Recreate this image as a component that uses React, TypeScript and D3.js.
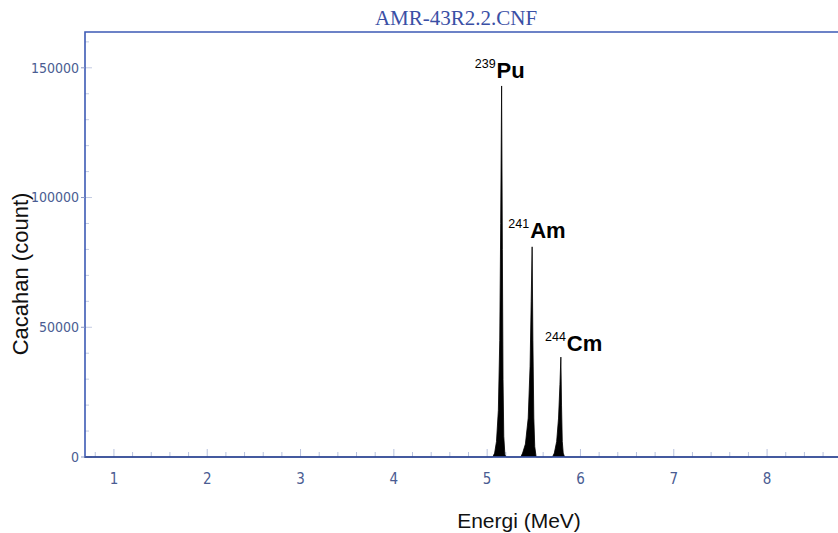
import { useEffect, useRef } from 'react';
import * as d3 from 'd3';

// spectrum (energy in MeV, counts)
const energy = [0.68, 5.06, 5.08, 5.10, 5.12, 5.135, 5.145, 5.155, 5.163, 5.170, 5.178, 5.19, 5.20,
  5.36, 5.38, 5.41, 5.44, 5.46, 5.472, 5.482, 5.49, 5.50, 5.51, 5.525,
  5.70, 5.72, 5.745, 5.765, 5.78, 5.79, 5.797, 5.805, 5.815, 5.83, 8.8];
const counts = [0, 0, 1500, 6000, 18000, 45000, 90000, 143000, 80000, 30000, 8000, 1000, 0,
  0, 1500, 5000, 15000, 35000, 60000, 81000, 45000, 15000, 4000, 0,
  0, 1500, 6000, 15000, 28000, 38500, 20000, 6000, 1500, 0, 0];

const peaks = [
  { mass: '239', sym: 'Pu', e: 5.155, c: 143000, dx: -5, dy: -8 },
  { mass: '241', sym: 'Am', e: 5.482, c: 81000, dx: -2, dy: -9 },
  { mass: '244', sym: 'Cm', e: 5.79, c: 38500, dx: 6, dy: -6 },
];

const xTicks = [1, 2, 3, 4, 5, 6, 7, 8];
const yTicks = [0, 50000, 100000, 150000];

const W = 838, H = 533;
const margin = { top: 32, right: 0, bottom: 76, left: 85 };

const App = () => {
  const svgRef = useRef<SVGSVGElement>(null);

  useEffect(() => {
    const svg = d3.select(svgRef.current);
    svg.selectAll('*').remove();

    const x = d3.scaleLinear().domain([0.69, 8.76]).range([margin.left, W - margin.right]);
    const y = d3.scaleLinear().domain([0, 163800]).range([H - margin.bottom, margin.top]);
    const axisColor = '#3d5ab5';
    const tickFont = '"Liberation Sans Narrow", "DejaVu Sans Condensed", Arial, sans-serif';
    const sans = 'Arial, "Liberation Sans", sans-serif';

    svg.append('rect').attr('width', W).attr('height', H).attr('fill', '#fff');

    // title
    svg.append('text')
      .attr('x', 456).attr('y', 25)
      .attr('text-anchor', 'middle')
      .style('font-family', '"Liberation Serif", "Times New Roman", serif')
      .style('font-size', '21px')
      .style('fill', '#3a4fa5')
      .text('AMR-43R2.2.CNF');

    // minor ticks
    const xMinor = d3.range(0.8, 8.8, 0.2);
    svg.selectAll('.xminor').data(xMinor).enter().append('line')
      .attr('x1', d => x(d)).attr('x2', d => x(d))
      .attr('y1', y(0)).attr('y2', d => y(0) - (Math.abs(d - Math.round(d)) < 0.01 ? 8 : 5))
      .style('stroke', '#b8c2de').style('stroke-width', 1);

    const yMinor = d3.range(0, 160001, 10000);
    svg.selectAll('.yminor').data(yMinor).enter().append('line')
      .attr('x1', x.range()[0]).attr('x2', d => x.range()[0] + (d % 50000 === 0 ? 7 : 4))
      .attr('y1', d => y(d)).attr('y2', d => y(d))
      .style('stroke', '#c3cbe3').style('stroke-width', 1);

    // spectrum
    const pts = energy.map((e, i) => [e, counts[i]] as [number, number]);
    const area = d3.area<[number, number]>()
      .x(d => x(d[0]))
      .y0(y(0))
      .y1(d => y(d[1]));
    svg.append('path')
      .attr('d', area(pts))
      .style('fill', '#000')
      .style('stroke', '#000')
      .style('stroke-width', 0.8);

    // frame
    svg.append('path')
      .attr('d', `M${W},${y.range()[1]}H${x.range()[0]}V${y(0)}H${W}`)
      .style('fill', 'none')
      .style('stroke', axisColor)
      .style('stroke-width', 1.6);

    // y tick labels
    svg.selectAll('.ytick').data(yTicks).enter().append('line')
      .attr('x1', x.range()[0] - 4).attr('x2', x.range()[0])
      .attr('y1', d => y(d)).attr('y2', d => y(d))
      .style('stroke', '#8a97c4');
    svg.selectAll('.ylab').data(yTicks).enter().append('text')
      .attr('x', x.range()[0] - 6)
      .attr('y', d => y(d))
      .attr('dy', '0.35em')
      .attr('text-anchor', 'end')
      .style('font-family', tickFont)
      .style('font-size', '14px')
      .style('fill', '#4a5c92')
      .text(d => d);

    // x tick labels
    svg.selectAll('.xlab').data(xTicks).enter().append('text')
      .attr('x', d => x(d))
      .attr('y', y(0) + 27)
      .attr('text-anchor', 'middle')
      .style('font-family', tickFont)
      .style('font-size', '15px')
      .style('fill', '#4a5c92')
      .text(d => d);

    // axis titles
    svg.append('text')
      .attr('x', 519).attr('y', 528)
      .attr('text-anchor', 'middle')
      .style('font-family', sans)
      .style('font-size', '21px')
      .style('fill', '#111')
      .text('Energi (MeV)');
    svg.append('text')
      .attr('transform', `translate(28,274) rotate(-90)`)
      .attr('text-anchor', 'middle')
      .style('font-family', sans)
      .style('font-size', '22px')
      .style('fill', '#111')
      .text('Cacahan (count)');

    // peak labels: mass number as superscript, symbol in bold
    const g = svg.selectAll('.peak').data(peaks).enter().append('g')
      .attr('transform', d => `translate(${x(d.e) + d.dx},${y(d.c) + d.dy})`);
    g.append('text')
      .attr('x', -1).attr('y', -10)
      .attr('text-anchor', 'end')
      .style('font-family', sans)
      .style('font-size', '12.5px')
      .style('fill', '#000')
      .text(d => d.mass);
    g.append('text')
      .attr('x', 0).attr('y', 0)
      .attr('text-anchor', 'start')
      .style('font-family', sans)
      .style('font-size', '22px')
      .style('font-weight', 'bold')
      .style('fill', '#000')
      .text(d => d.sym);
  }, []);

  return (
    <svg ref={svgRef} width={W} height={H}
      style={{ position: 'absolute', left: 0, top: 0, display: 'block' }} />
  );
};

export default App;
